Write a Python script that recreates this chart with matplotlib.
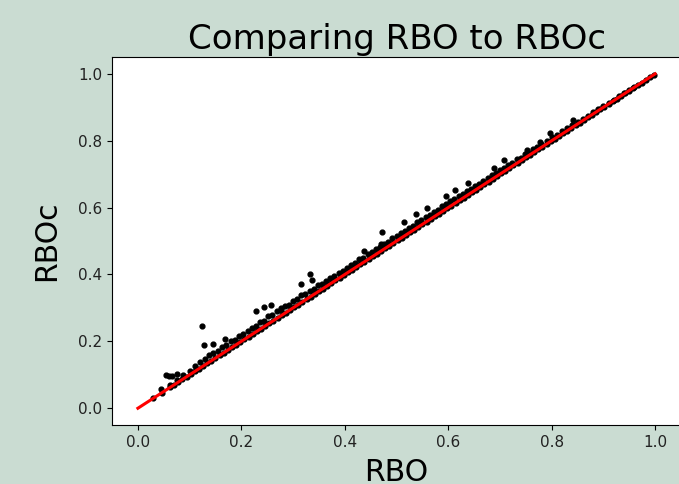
import matplotlib
matplotlib.use("Agg")
import matplotlib.pyplot as plt
import numpy as np

BG = '#cadcd2'

# points lying on the diagonal (RBOc == RBO)
rbo_diag = [0.030, 0.046, 0.062, 0.070, 0.078, 0.086, 0.094, 0.102, 0.110, 0.118,
            0.126, 0.134, 0.142, 0.150, 0.158, 0.166, 0.174, 0.182, 0.190, 0.198,
            0.206, 0.214, 0.222, 0.230, 0.238, 0.246, 0.254, 0.262, 0.270, 0.278,
            0.286, 0.294, 0.302, 0.310, 0.318, 0.326, 0.334, 0.342, 0.350, 0.358,
            0.366, 0.374, 0.382, 0.390, 0.398, 0.406, 0.414, 0.422, 0.430, 0.438,
            0.446, 0.454, 0.462, 0.470, 0.478, 0.486, 0.494, 0.502, 0.510, 0.518,
            0.526, 0.534, 0.542, 0.550, 0.558, 0.566, 0.574, 0.582, 0.590, 0.598,
            0.606, 0.614, 0.622, 0.630, 0.638, 0.646, 0.654, 0.662, 0.670, 0.678,
            0.686, 0.694, 0.702, 0.710, 0.718, 0.726, 0.734, 0.742, 0.750, 0.758,
            0.766, 0.774, 0.782, 0.790, 0.798, 0.806, 0.814, 0.822, 0.830, 0.838,
            0.846, 0.854, 0.862, 0.870, 0.878, 0.886, 0.894, 0.902, 0.910, 0.918,
            0.926, 0.934, 0.942, 0.950, 0.958, 0.966, 0.974, 0.982, 0.990, 0.998]
rboc_diag = [0.030, 0.046, 0.062, 0.070, 0.078, 0.086, 0.094, 0.102, 0.110, 0.118,
             0.126, 0.134, 0.142, 0.150, 0.158, 0.166, 0.174, 0.182, 0.190, 0.198,
             0.206, 0.214, 0.222, 0.230, 0.238, 0.246, 0.254, 0.262, 0.270, 0.278,
             0.286, 0.294, 0.302, 0.310, 0.318, 0.326, 0.334, 0.342, 0.350, 0.358,
             0.366, 0.374, 0.382, 0.390, 0.398, 0.406, 0.414, 0.422, 0.430, 0.438,
             0.446, 0.454, 0.462, 0.470, 0.478, 0.486, 0.494, 0.502, 0.510, 0.518,
             0.526, 0.534, 0.542, 0.550, 0.558, 0.566, 0.574, 0.582, 0.590, 0.598,
             0.606, 0.614, 0.622, 0.630, 0.638, 0.646, 0.654, 0.662, 0.670, 0.678,
             0.686, 0.694, 0.702, 0.710, 0.718, 0.726, 0.734, 0.742, 0.750, 0.758,
             0.766, 0.774, 0.782, 0.790, 0.798, 0.806, 0.814, 0.822, 0.830, 0.838,
             0.846, 0.854, 0.862, 0.870, 0.878, 0.886, 0.894, 0.902, 0.910, 0.918,
             0.926, 0.934, 0.942, 0.950, 0.958, 0.966, 0.974, 0.982, 0.990, 0.998]

# points just above the diagonal
rbo_near = [0.062, 0.075, 0.088, 0.100, 0.110, 0.120, 0.130, 0.138, 0.146, 0.155,
            0.163, 0.171, 0.180, 0.188, 0.196, 0.204, 0.212, 0.220, 0.228, 0.236,
            0.244, 0.252, 0.260, 0.268, 0.276, 0.284, 0.292, 0.300, 0.308, 0.316,
            0.324, 0.332, 0.340, 0.348, 0.356, 0.364, 0.372, 0.380, 0.388, 0.396,
            0.404, 0.412, 0.420, 0.428, 0.436, 0.444, 0.452, 0.460, 0.468, 0.476,
            0.484, 0.492, 0.500, 0.508, 0.516, 0.524, 0.532, 0.540, 0.548, 0.556,
            0.564, 0.572, 0.580, 0.588, 0.596, 0.604, 0.612, 0.620, 0.628, 0.636,
            0.644, 0.652, 0.660, 0.668, 0.676, 0.684, 0.692, 0.700, 0.708, 0.716,
            0.724, 0.732, 0.740, 0.748, 0.756, 0.764, 0.772, 0.780, 0.790, 0.800,
            0.810, 0.820, 0.830, 0.840, 0.850, 0.860, 0.870, 0.880, 0.890, 0.900,
            0.910, 0.920, 0.930, 0.940, 0.950, 0.960]
rboc_near = [0.070, 0.085, 0.098, 0.112, 0.125, 0.138, 0.146, 0.158, 0.165, 0.172,
             0.182, 0.188, 0.200, 0.205, 0.215, 0.222, 0.232, 0.240, 0.246, 0.258,
             0.262, 0.275, 0.280, 0.290, 0.294, 0.305, 0.310, 0.322, 0.326, 0.338,
             0.342, 0.352, 0.358, 0.368, 0.372, 0.380, 0.388, 0.395, 0.404, 0.410,
             0.418, 0.428, 0.434, 0.445, 0.450, 0.460, 0.466, 0.476, 0.481, 0.492,
             0.498, 0.508, 0.514, 0.524, 0.530, 0.540, 0.546, 0.556, 0.562, 0.572,
             0.578, 0.588, 0.594, 0.604, 0.610, 0.620, 0.626, 0.636, 0.640, 0.650,
             0.656, 0.666, 0.670, 0.681, 0.687, 0.696, 0.702, 0.712, 0.718, 0.728,
             0.733, 0.744, 0.748, 0.760, 0.764, 0.774, 0.780, 0.789, 0.798, 0.810,
             0.818, 0.828, 0.837, 0.848, 0.856, 0.866, 0.875, 0.885, 0.894, 0.904,
             0.914, 0.923, 0.933, 0.942, 0.952, 0.961]

# scattered outliers
rbo_out = [0.044, 0.054, 0.060, 0.066, 0.075, 0.124, 0.127, 0.145, 0.168, 0.228,
           0.244, 0.257, 0.276, 0.315, 0.332, 0.337, 0.437, 0.469, 0.472, 0.514,
           0.537, 0.559, 0.595, 0.613, 0.638, 0.688, 0.707, 0.752, 0.778, 0.797,
           0.842]
rboc_out = [0.057, 0.098, 0.096, 0.095, 0.101, 0.246, 0.190, 0.192, 0.207, 0.292,
            0.302, 0.308, 0.299, 0.373, 0.402, 0.383, 0.471, 0.491, 0.528, 0.556,
            0.580, 0.600, 0.634, 0.654, 0.674, 0.718, 0.743, 0.773, 0.797, 0.824,
            0.862]

line_x = [0.0, 1.0]
line_y = [0.0, 1.0]

rbo = np.array(rbo_diag + rbo_near + rbo_out)
rboc = np.array(rboc_diag + rboc_near + rboc_out)

fig = plt.figure(figsize=(6.79, 4.84), dpi=100, facecolor=BG)
ax = fig.add_axes([0.165, 0.122, 0.838, 0.760])

ax.scatter(rbo, rboc, s=12, color='black', zorder=2)
ax.plot(line_x, line_y, color='red', linewidth=2.2, zorder=3)

ax.set_title("Comparing RBO to RBOc", fontsize=24.5)
ax.set_xlabel("RBO", fontsize=21.5, labelpad=6)
ax.set_ylabel("RBOc", fontsize=21.5, labelpad=12)
ax.tick_params(labelsize=11, labelcolor='#222222')

fig.savefig("out.png", dpi=100, facecolor=BG)
